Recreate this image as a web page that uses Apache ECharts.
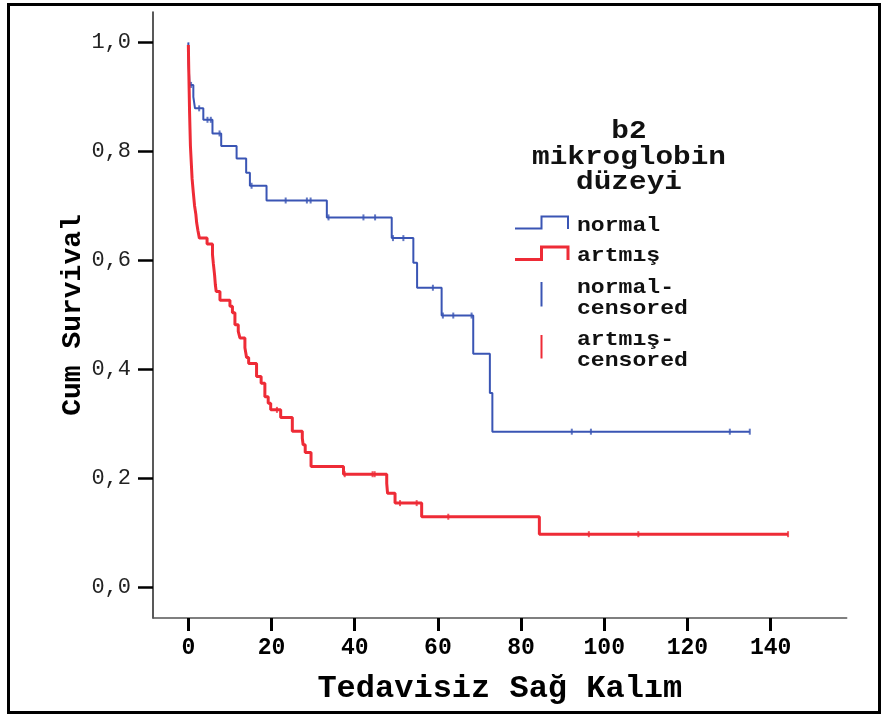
<!DOCTYPE html>
<html><head><meta charset="utf-8">
<script src="https://cdn.jsdelivr.net/npm/echarts@6/dist/echarts.min.js"></script>
<style>html,body{margin:0;padding:0;background:#fff}#c{width:883px;height:715px}</style>
</head><body><div id="c"></div>
<script>
const xTicks = [0, 20, 40, 60, 80, 100, 120, 140];
const yTicks = [0, 0.2, 0.4, 0.6, 0.8, 1.0];

const normalSteps = [[0,1.0],[0.05,0.96],[0.3,0.922],[1.2,0.900],[1.6,0.879],[3.6,0.858],[5.8,0.833],[7.9,0.810],[11.6,0.787],[13.9,0.761],[14.8,0.737],[18.8,0.710],[33.3,0.679],[48.9,0.641],[54.1,0.596],[55.0,0.550],[60.9,0.499],[68.5,0.429],[72.5,0.357],[73.1,0.286],[135.0,0.286]];
const normalCensored = [0.65, 2.6, 4.6, 5.4, 7.5, 15.2, 23.4, 28.5, 29.4, 33.7, 42.1, 44.9, 49.2, 51.7, 58.8, 61.2, 63.7, 68.1, 92.2, 96.8, 130.2, 135.0];

const artmisSteps = [[0,0.995],[0.1,0.95],[0.2,0.91],[0.3,0.87],[0.4,0.84],[0.5,0.81],[0.7,0.78],[0.9,0.75],[1.2,0.724],[1.5,0.70],[1.8,0.685],[2.0,0.669],[2.3,0.655],[2.65,0.641],[4.5,0.630],[5.8,0.611],[6.0,0.595],[6.3,0.574],[6.5,0.555],[6.7,0.543],[7.6,0.527],[10.0,0.516],[10.6,0.504],[11.2,0.482],[12.0,0.470],[12.4,0.458],[13.6,0.440],[14.0,0.422],[14.5,0.411],[16.4,0.387],[17.5,0.375],[18.4,0.350],[19.2,0.338],[19.8,0.326],[22.2,0.312],[25.0,0.287],[27.4,0.274],[27.6,0.262],[28.1,0.248],[29.5,0.222],[37.3,0.208],[47.7,0.191],[47.9,0.173],[49.7,0.155],[56.1,0.130],[84.4,0.098],[144.2,0.098]];
const artmisCensored = [21.3, 37.6, 44.3, 44.8, 50.9, 54.9, 62.5, 96.3, 108.2, 144.2];

const seriesNames = ['normal', 'artmış', 'normal-\ncensored', 'artmış-\ncensored'];
const legendTitle = 'b2\nmikroglobin\ndüzeyi';
const xTitle = 'Tedavisiz Sağ Kalım';
const yTitle = 'Cum Survival';

const BLUE = '#3a55b4';
const RED = '#ee2b36';

function survAt(steps, t) {
  let v = steps[0][1];
  for (const s of steps) { if (s[0] <= t) v = s[1]; else break; }
  return v;
}

const chart = echarts.init(document.getElementById('c'), null, {renderer: 'canvas'});
const mono = 'Liberation Mono, Courier New, monospace';

function legendText(txt, x, y, size, align, sx) {
  return {type: 'text', x: x, y: y, scaleX: sx, z: 10,
    style: {text: txt, font: 'bold ' + size + 'px ' + mono, fill: '#111', align: align, verticalAlign: 'middle', lineHeight: size * 0.98}};
}

chart.setOption({
  animation: false,
  backgroundColor: '#fff',
  grid: {left: 153, right: 36.3, top: 12, bottom: 97, containLabel: false},
  xAxis: {
    type: 'value', min: -8.5, max: 158.3,
    axisLine: {onZero: false, lineStyle: {color: '#555', width: 1.5}},
    axisTick: {customValues: xTicks, length: 13, lineStyle: {color: '#000', width: 3}},
    axisLabel: {customValues: xTicks, fontFamily: mono, fontWeight: 'bold', fontSize: 23, color: '#000', margin: 19},
    splitLine: {show: false},
    name: xTitle, nameLocation: 'middle', nameGap: 55, nameMoveOverlap: false,
    nameTextStyle: {fontFamily: mono, fontWeight: 'bold', fontSize: 32, color: '#000'}
  },
  yAxis: {
    type: 'value', min: -0.0557, max: 1.0557,
    axisLine: {onZero: false, lineStyle: {color: '#222', width: 1.5}},
    axisTick: {customValues: yTicks, length: 15, lineStyle: {color: '#000', width: 2.5}},
    axisLabel: {customValues: yTicks, fontFamily: mono, fontSize: 22, color: '#222', margin: 22,
      formatter: v => v.toFixed(1).replace('.', ',')},
    splitLine: {show: false},
    name: yTitle, nameLocation: 'middle', nameGap: 66, nameMoveOverlap: false,
    nameTextStyle: {fontFamily: mono, fontWeight: 'bold', fontSize: 28, color: '#000'}
  },
  series: [
    {name: seriesNames[0], type: 'line', step: 'end', data: normalSteps, showSymbol: false,
      lineStyle: {color: BLUE, width: 2}, z: 2},
    {name: seriesNames[2], type: 'scatter', data: normalCensored.map(t => [t, survAt(normalSteps, t)]),
      symbol: 'rect', symbolSize: [2, 6], itemStyle: {color: BLUE}, z: 3},
    {name: seriesNames[1], type: 'line', step: 'end', data: artmisSteps, showSymbol: false,
      lineStyle: {color: RED, width: 3}, z: 4},
    {name: seriesNames[3], type: 'scatter', data: artmisCensored.map(t => [t, survAt(artmisSteps, t)]),
      symbol: 'rect', symbolSize: [2, 6], itemStyle: {color: RED}, z: 5}
  ],
  graphic: [
    {type: 'rect', shape: {x: 8.5, y: 4.5, width: 871, height: 708}, style: {fill: 'none', stroke: '#000', lineWidth: 3}, z: 20},
    legendText(legendTitle, 629, 157, 26, 'center', 1.13),
    {type: 'polyline', shape: {points: [[515, 228.5], [541.5, 228.5], [541.5, 216.5], [568, 216.5], [568, 229]]}, style: {stroke: BLUE, lineWidth: 2, fill: null}, z: 10},
    {type: 'polyline', shape: {points: [[515, 259.5], [541.5, 259.5], [541.5, 247], [568, 247], [568, 260]]}, style: {stroke: RED, lineWidth: 3, fill: null}, z: 10},
    {type: 'line', shape: {x1: 541.5, y1: 282, x2: 541.5, y2: 306.5}, style: {stroke: BLUE, lineWidth: 2}, z: 10},
    {type: 'line', shape: {x1: 541.5, y1: 335, x2: 541.5, y2: 358.5}, style: {stroke: RED, lineWidth: 2}, z: 10},
    legendText(seriesNames[0], 577, 226, 21, 'left', 1.1),
    legendText(seriesNames[1], 577, 256, 21, 'left', 1.1),
    legendText(seriesNames[2], 577, 298, 21, 'left', 1.1),
    legendText(seriesNames[3], 577, 350, 21, 'left', 1.1)
  ]
});
</script>
</body></html>
